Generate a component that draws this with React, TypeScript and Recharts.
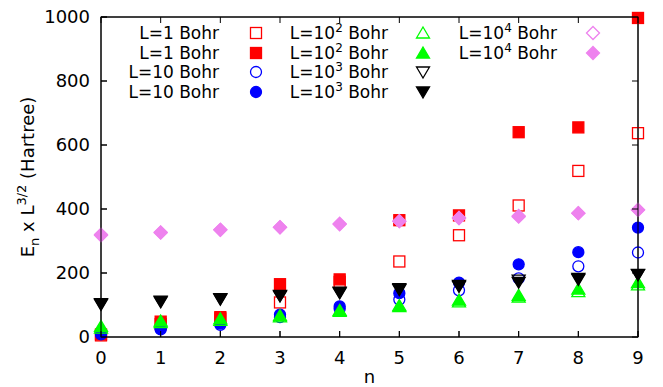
import React from 'react';
import { ScatterChart, Scatter, XAxis, YAxis } from 'recharts';

const nValues = [0, 1, 2, 3, 4, 5, 6, 7, 8, 9];
const xTicks = [0, 1, 2, 3, 4, 5, 6, 7, 8, 9];
const yTicks = [0, 200, 400, 600, 800, 1000];

const l1Open = [5, 40, 58, 108, 172, 236, 318, 411, 519, 637];
const l1Filled = [8, 48, 62, 165, 180, 365, 380, 640, 655, 997];
const l10Open = [8, 24, 38, 62, 88, 117, 146, 183, 221, 264];
const l10Filled = [12, 27, 42, 70, 96, 137, 170, 227, 265, 342];
const l100Open = [28, 45, 52, 63, 80, 95, 110, 125, 142, 163];
const l100Filled = [33, 50, 57, 67, 83, 98, 115, 130, 150, 170];
const l1000Open = [102, 110, 118, 128, 138, 148, 158, 178, 180, 195];
const l1000Filled = [104, 112, 120, 130, 140, 151, 161, 171, 183, 196];
const l10000Open = [318, 326, 335, 343, 352, 362, 372, 378, 387, 397];
const l10000Filled = [320, 327, 335, 343, 354, 362, 372, 376, 387, 398];

const FONT = 'DejaVu Sans';

// plot box, same as the chart margins + axis sizes below
const PLOT = { left: 101, top: 17, right: 638, bottom: 337 };

type Kind = 'square' | 'circle' | 'up' | 'down' | 'diamond';

const series = [
  { label: '1', sup: '', kind: 'square' as Kind, color: '#ff0000', filled: false, values: l1Open },
  { label: '1', sup: '', kind: 'square' as Kind, color: '#ff0000', filled: true, values: l1Filled },
  { label: '10', sup: '', kind: 'circle' as Kind, color: '#0000ff', filled: false, values: l10Open },
  { label: '10', sup: '', kind: 'circle' as Kind, color: '#0000ff', filled: true, values: l10Filled },
  { label: '10', sup: '2', kind: 'up' as Kind, color: '#00ff00', filled: false, values: l100Open },
  { label: '10', sup: '2', kind: 'up' as Kind, color: '#00ff00', filled: true, values: l100Filled },
  { label: '10', sup: '3', kind: 'down' as Kind, color: '#000000', filled: false, values: l1000Open },
  { label: '10', sup: '3', kind: 'down' as Kind, color: '#000000', filled: true, values: l1000Filled },
  { label: '10', sup: '4', kind: 'diamond' as Kind, color: '#ee82ee', filled: false, values: l10000Open },
  { label: '10', sup: '4', kind: 'diamond' as Kind, color: '#ee82ee', filled: true, values: l10000Filled },
];

const Marker = ({ cx, cy, kind, color, filled }: any) => {
  if (cx == null || cy == null) return null;
  const fill = filled ? color : 'none';
  const sw = 1.3;
  if (kind === 'square') {
    return <rect x={cx - 5.5} y={cy - 5.5} width={11} height={11} fill={fill} stroke={color} strokeWidth={sw} />;
  }
  if (kind === 'circle') {
    return <circle cx={cx} cy={cy} r={5.5} fill={fill} stroke={color} strokeWidth={sw} />;
  }
  let pts = '';
  if (kind === 'up') pts = `${cx},${cy - 6} ${cx + 6.5},${cy + 5} ${cx - 6.5},${cy + 5}`;
  if (kind === 'down') pts = `${cx},${cy + 6} ${cx + 6.5},${cy - 5} ${cx - 6.5},${cy - 5}`;
  if (kind === 'diamond') pts = `${cx},${cy - 6.5} ${cx + 6.5},${cy} ${cx},${cy + 6.5} ${cx - 6.5},${cy}`;
  return <polygon points={pts} fill={fill} stroke={color} strokeWidth={sw} />;
};

const YLabel = ({ viewBox }: any) => {
  const x = viewBox.x + 34;
  const y = viewBox.y + viewBox.height / 2;
  return (
    <text x={x} y={y} transform={`rotate(-90, ${x}, ${y})`} textAnchor="middle" fontFamily={FONT} fontSize={18} fill="#000">
      <tspan>E</tspan>
      <tspan dy={5} fontSize={13}>n</tspan>
      <tspan dy={-5}> x L</tspan>
      <tspan dy={-8} fontSize={13}>3/2</tspan>
      <tspan dy={8}> (Hartree)</tspan>
    </text>
  );
};

const XLabel = ({ viewBox }: any) => (
  <text x={viewBox.x + viewBox.width / 2} y={383} textAnchor="middle" fontFamily={FONT} fontSize={18} fill="#000">
    n
  </text>
);

const legendCols = [
  { textX: 219, markX: 256 },
  { textX: 388, markX: 423 },
  { textX: 557, markX: 593 },
];
const legendRows = [33, 53, 72, 92];

// frame with inward ticks (gnuplot style border)
const Frame = () => {
  const w = PLOT.right - PLOT.left;
  const h = PLOT.bottom - PLOT.top;
  const xPos = (t: number) => PLOT.left + (t / 9) * w;
  const yPos = (t: number) => PLOT.bottom - (t / 1000) * h;
  const st = { stroke: '#000', strokeWidth: 1 };
  return (
    <g>
      <rect x={PLOT.left} y={PLOT.top} width={w} height={h} fill="none" {...st} />
      {xTicks.map((t) => (
        <g key={`x${t}`}>
          <line x1={xPos(t)} x2={xPos(t)} y1={PLOT.bottom} y2={PLOT.bottom - 6} {...st} />
          <line x1={xPos(t)} x2={xPos(t)} y1={PLOT.top} y2={PLOT.top + 6} {...st} />
        </g>
      ))}
      {yTicks.map((t) => (
        <g key={`y${t}`}>
          <line x1={PLOT.left} x2={PLOT.left + 6} y1={yPos(t)} y2={yPos(t)} {...st} />
          <line x1={PLOT.right} x2={PLOT.right - 6} y1={yPos(t)} y2={yPos(t)} {...st} />
        </g>
      ))}
    </g>
  );
};

const LegendOverlay = () => (
  <svg width={663} height={387} style={{ position: 'absolute', left: 0, top: 0, pointerEvents: 'none' }}>
    <Frame />
    {series.map((s, i) => {
      const col = legendCols[Math.floor(i / 4)];
      const rowY = legendRows[i % 4];
      return (
        <g key={i}>
          <text x={col.textX} y={rowY + 6} textAnchor="end" fontFamily={FONT} fontSize={17} fill="#000">
            <tspan>L={s.label}</tspan>
            {s.sup ? (
              <>
                <tspan dy={-7} fontSize={12}>{s.sup}</tspan>
                <tspan dy={7}> Bohr</tspan>
              </>
            ) : (
              <tspan> Bohr</tspan>
            )}
          </text>
          <Marker cx={col.markX} cy={rowY} kind={s.kind} color={s.color} filled={s.filled} />
        </g>
      );
    })}
  </svg>
);

const tickStyle = { fontFamily: FONT, fontSize: 18, fill: '#000' };

export default function App() {
  return (
    <div style={{ position: 'absolute', left: 0, top: 0, width: 663, height: 387, background: '#fff' }}>
      <ScatterChart width={663} height={387} margin={{ top: 16, right: 24, bottom: 0, left: 0 }}>
        <XAxis
          type="number"
          dataKey="n"
          domain={[0, 9]}
          ticks={xTicks}
          height={50}
          tickSize={-6}
          tickMargin={20}
          tick={tickStyle}
          stroke="#000"
          label={<XLabel />}
        />
        <XAxis
          xAxisId="top"
          orientation="top"
          type="number"
          domain={[0, 9]}
          ticks={xTicks}
          height={1}
          tickSize={-6}
          tick={false}
          stroke="#000"
        />
        <YAxis
          type="number"
          dataKey="v"
          domain={[0, 1000]}
          ticks={yTicks}
          width={101}
          tickSize={-6}
          tickMargin={17}
          tick={tickStyle}
          stroke="#000"
          label={<YLabel />}
        />
        <YAxis
          yAxisId="right"
          orientation="right"
          type="number"
          domain={[0, 1000]}
          ticks={yTicks}
          width={1}
          tickSize={-6}
          tick={false}
          stroke="#000"
        />
        {series.map((s, i) => (
          <Scatter
            key={i}
            data={nValues.map((n, j) => ({ n, v: s.values[j] }))}
            isAnimationActive={false}
            shape={(p: any) => <Marker cx={p.cx} cy={p.cy} kind={s.kind} color={s.color} filled={s.filled} />}
          />
        ))}
      </ScatterChart>
      <LegendOverlay />
    </div>
  );
}
